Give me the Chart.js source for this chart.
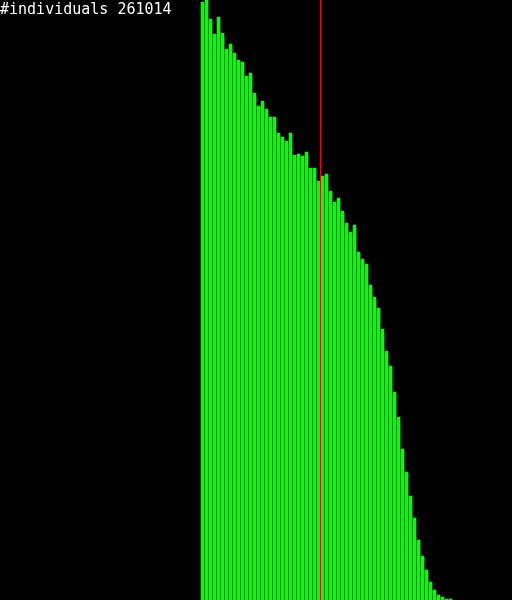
<!DOCTYPE html>
<html>
<head>
<meta charset="utf-8">
<script src="https://cdn.jsdelivr.net/npm/chart.js@4"></script>
<style>
  html, body { margin: 0; padding: 0; background: #000; }
  canvas { display: block; background: #000; }
</style>
</head>
<body>
<canvas id="histChart" width="512" height="600"></canvas>
<script>
// Histogram counts, one per bin (bin index = position in array)
const binCounts = [598, 600, 581, 566, 583, 567, 551, 556, 547, 540, 538, 524, 527, 507, 494, 499,
  491, 483, 483, 467, 463, 459, 467, 445, 446, 444, 448, 432, 432, 419, 424, 426, 409, 398, 402,
  389, 377, 368, 375, 348, 341, 336, 315, 303, 292, 271, 249, 234, 208, 183, 151, 128, 104, 82,
  60, 44, 30, 18, 10, 5, 3, 1, 1];
// Position of the marker line (between bins 29 and 30)
const markerBin = 29.5;
const headerText = '#individuals 261014';

// Build points for the bars
const barPoints = binCounts.map((c, i) => ({ x: i, y: c }));

// Plugin to write the header text top-left
const headerPlugin = {
  id: 'header',
  afterDraw(chart) {
    const ctx = chart.ctx;
    ctx.save();
    ctx.fillStyle = '#fff';
    ctx.font = '15px "DejaVu Sans Mono", monospace';
    ctx.textBaseline = 'alphabetic';
    ctx.fillText(headerText, 0, 14);
    ctx.restore();
  }
};

const ctx = document.getElementById('histChart').getContext('2d');
new Chart(ctx, {
  data: {
    datasets: [{
      type: 'line',
      data: [{ x: markerBin, y: 0 }, { x: markerBin, y: 600 }],
      borderColor: '#ff0000',
      borderWidth: 1,
      pointRadius: 0,
      order: 0
    }, {
      type: 'bar',
      data: barPoints,
      backgroundColor: '#00ff00',
      borderWidth: 0,
      barThickness: 3,
      order: 1
    }]
  },
  options: {
    responsive: false,
    animation: false,
    layout: { padding: 0 },
    plugins: {
      legend: { display: false },
      tooltip: { enabled: false }
    },
    scales: {
      x: { type: 'linear', min: -50.625, max: 77.375, offset: false, grid: { offset: false }, display: false },
      y: { min: 0, max: 600, display: false }
    }
  },
  plugins: [headerPlugin]
});
</script>
</body>
</html>
